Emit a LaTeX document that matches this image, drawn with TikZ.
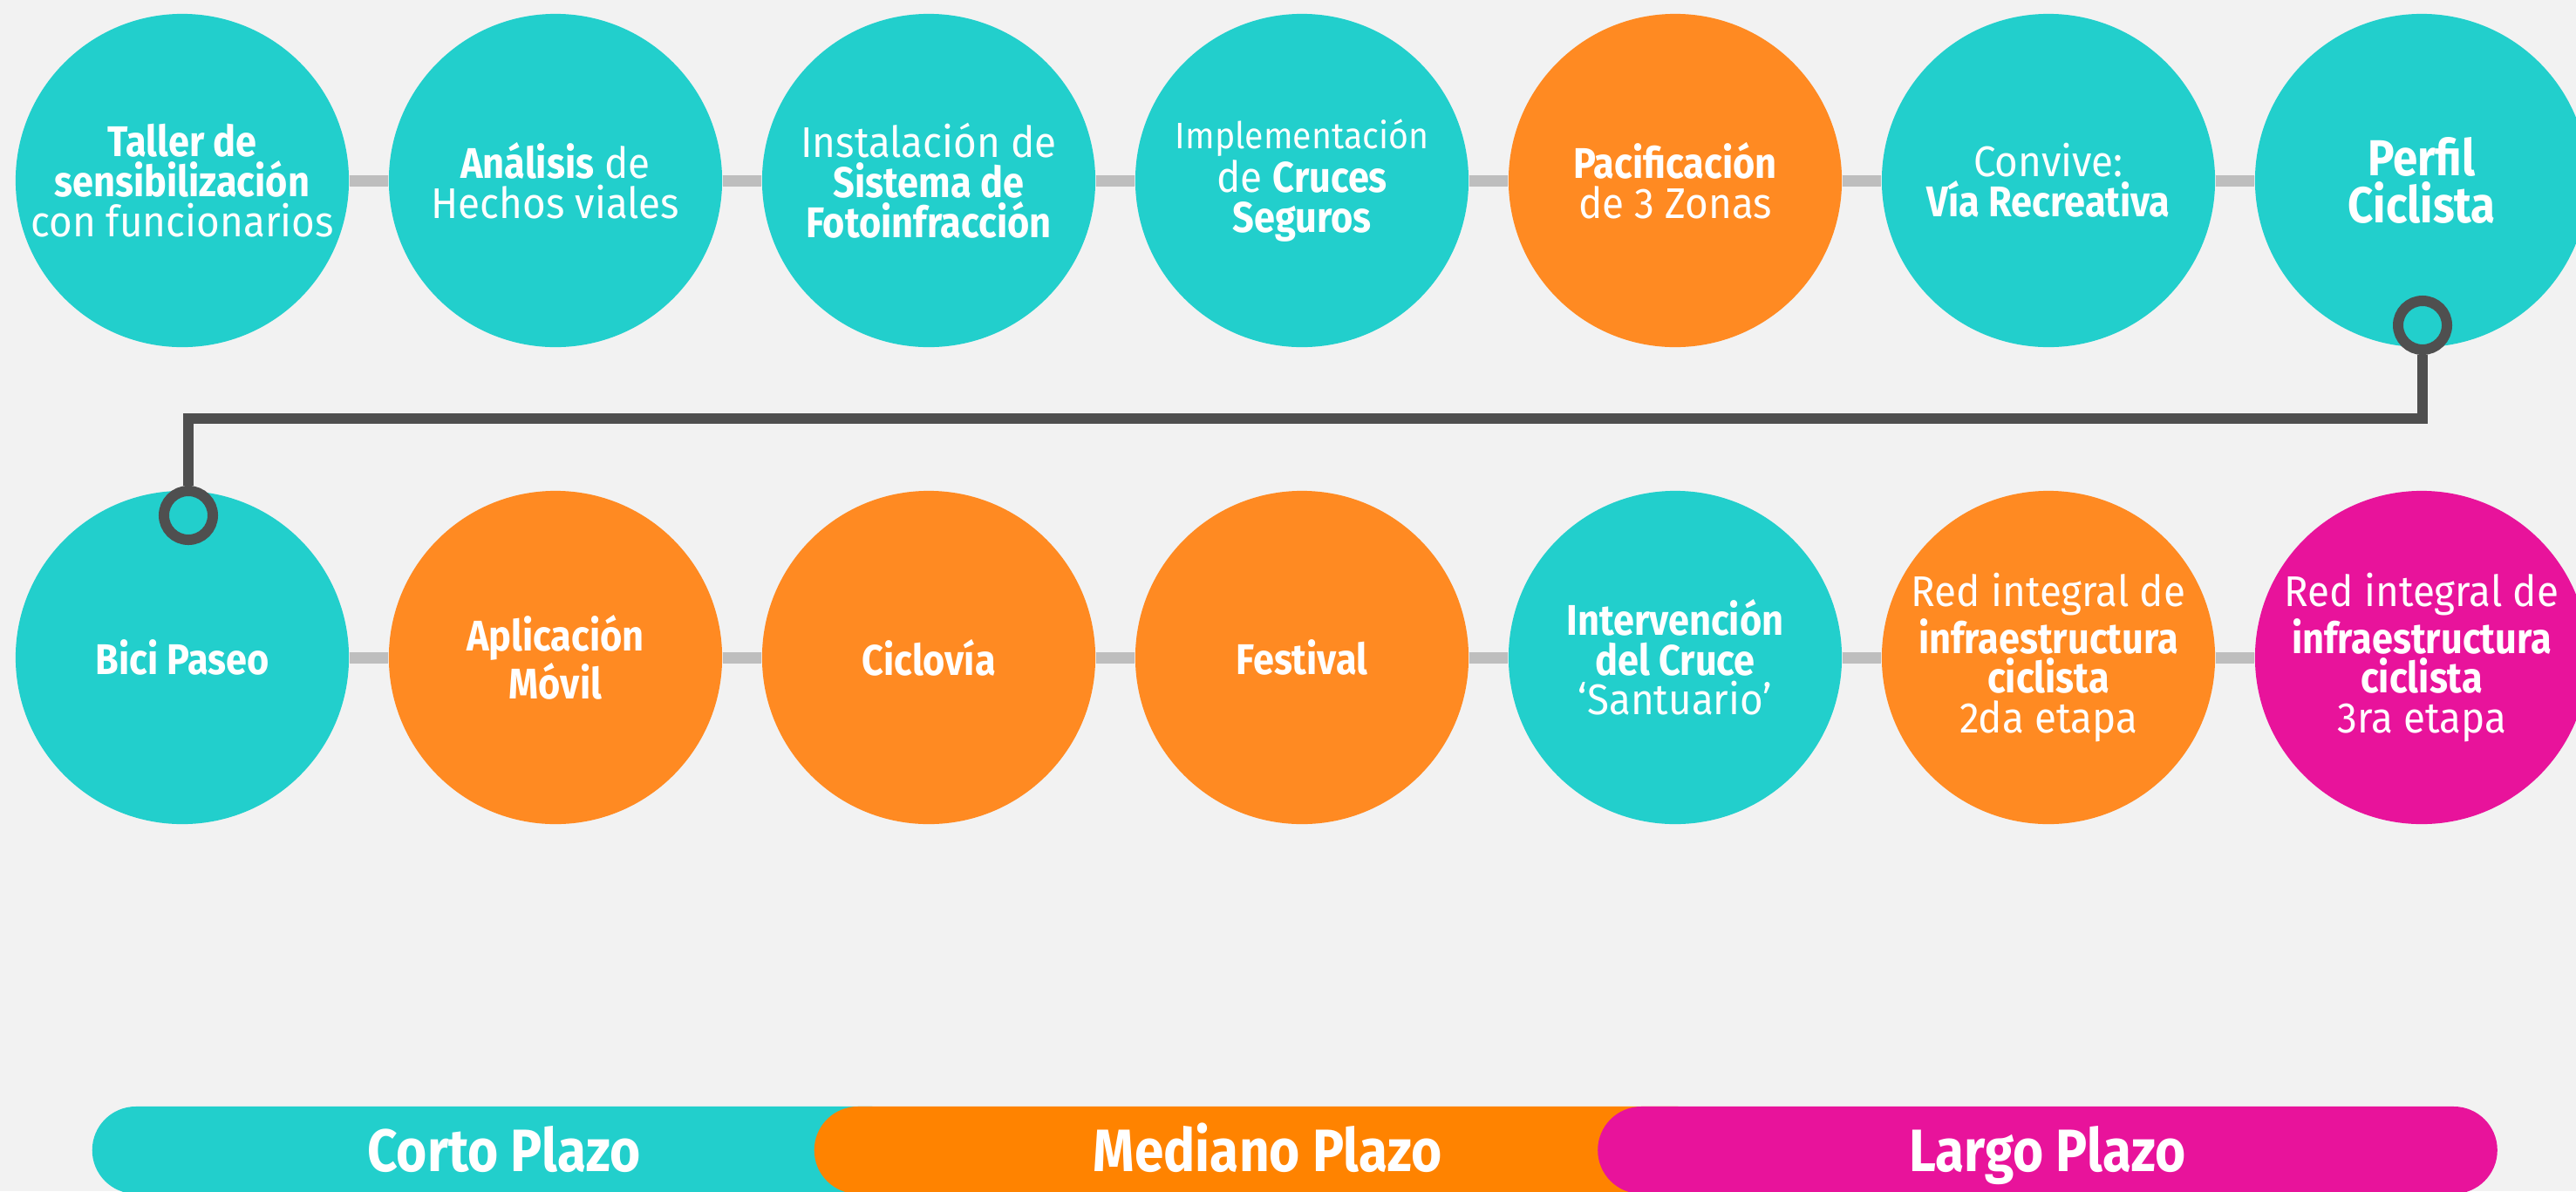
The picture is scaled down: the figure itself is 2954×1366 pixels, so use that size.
\documentclass[tikz,border=0pt]{standalone}
\usepackage{fontspec}
\setmainfont{Fira Sans}[FakeStretch=0.93,BoldFeatures={FakeStretch=0.88}]
\definecolor{bgc}{HTML}{F2F2F2}
\definecolor{cortoc}{HTML}{22CFCC}
\definecolor{medianoc}{HTML}{FF8A22}
\definecolor{barorange}{HTML}{FF8300}
\definecolor{largoc}{HTML}{E8139B}
\definecolor{linkc}{HTML}{BEBEBE}
\definecolor{ringc}{HTML}{4F4F4F}
\tikzset{
  stage/.style={circle, minimum size=3.82cm, inner sep=0pt, align=center, text=white,
    font=\fontsize{14}{13}\selectfont},
  corto/.style={stage, fill=cortoc},
  mediano/.style={stage, fill=medianoc},
  largo/.style={stage, fill=largoc},
  link/.style={draw=linkc, line width=0.13cm},
  ring/.style={circle, draw=ringc, line width=0.12cm, fill=cortoc, minimum size=0.56cm, inner sep=0pt},
  jump/.style={draw=ringc, line width=0.12cm},
  plazo/.style={rounded corners=0.5cm, minimum height=1cm, inner sep=0pt, text=white,
    text height=18pt, text depth=4pt, font=\bfseries\fontsize{19.5}{20}\selectfont}
}
\begin{document}
\begin{tikzpicture}[x=0.01cm,y=-0.01cm]
    \fill[bgc] (0,0) rectangle (2954,1366);
    \useasboundingbox (0,0) rectangle (2954,1366);
    % first row
    \node[corto] (a1) at (209,207) {\textbf{Taller de}\\\textbf{sensibilización}\\con funcionarios};
    \node[corto] (a2) at (637,207) {\textbf{Análisis} de\\Hechos viales};
    \node[corto] (a3) at (1065,207) {Instalación de\\\textbf{Sistema de}\\\textbf{Fotoinfracción}};
    \node[corto] (a4) at (1493,207) {{\fontsize{12}{12}\selectfont Implementación}\\de \textbf{Cruces}\\\textbf{Seguros}};
    \node[mediano] (a5) at (1921,207) {\textbf{Pacificación}\\de 3 Zonas};
    \node[corto] (a6) at (2349,207) {Convive:\\\textbf{Vía Recreativa}};
    \node[corto, font=\fontsize{16.5}{15.5}\selectfont] (a7) at (2777,207) {\textbf{Perfil}\\\textbf{Ciclista}};
    % second row
    \node[corto] (b1) at (209,754) {\textbf{Bici Paseo}};
    \node[mediano] (b2) at (637,754) {\textbf{Aplicación}\\\textbf{Móvil}};
    \node[mediano] (b3) at (1065,754) {\textbf{Ciclovía}};
    \node[mediano] (b4) at (1493,754) {\textbf{Festival}};
    \node[corto] (b5) at (1921,754) {\textbf{Intervención}\\\textbf{del Cruce}\\‘Santuario’};
    \node[mediano] (b6) at (2349,754) {Red integral de\\\textbf{infraestructura}\\\textbf{ciclista}\\2da etapa};
    \node[largo] (b7) at (2777,754) {Red integral de\\\textbf{infraestructura}\\\textbf{ciclista}\\3ra etapa};
    \foreach \i [count=\j from 2] in {1,...,6} {
        \draw[link] (a\i) -- (a\j);
        \draw[link] (b\i) -- (b\j);
    }
    % jump from first row to second row
    \node[ring] (r1) at (2778,373) {};
    \node[ring] (r2) at (216,591) {};
    \draw[jump] (r1.south) -- ++(0,73) -| (r2.north);
    % time scale
    \node[plazo, fill=cortoc, minimum width=9.44cm] (corto) at (578,1319) {Corto Plazo};
    \node[plazo, fill=barorange, minimum width=10.4cm] (mediano) at (1454,1319) {Mediano Plazo};
    \node[plazo, fill=largoc, minimum width=10.31cm] (largo) at (2348,1319) {Largo Plazo};
\end{tikzpicture}
\end{document}
